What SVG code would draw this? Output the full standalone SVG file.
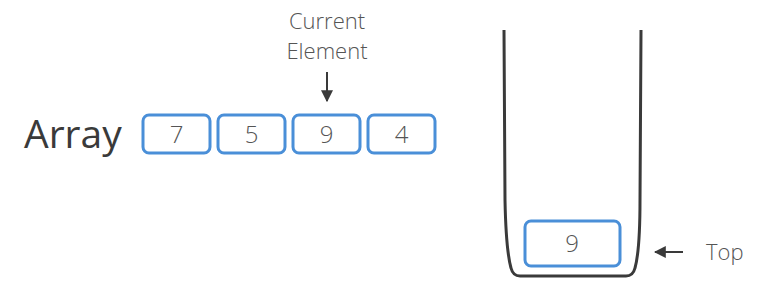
<svg xmlns="http://www.w3.org/2000/svg" width="770" height="281" viewBox="0 0 770 281">
<style>
.box{fill:#fff;stroke:#4a8fd8;stroke-width:3}
.num{font-family:"Open Sans","Liberation Sans",sans-serif;font-weight:300;font-size:24px;fill:#555;text-anchor:middle}
.lbl{font-family:"Open Sans","Liberation Sans",sans-serif;font-weight:300;font-size:22px;fill:#555}
.ln{stroke:#3a3a3a;stroke-width:2;fill:none}
</style>
<defs>
<marker id="ah" viewBox="0 0 10 10" refX="9" refY="5" markerWidth="6" markerHeight="6" orient="auto-start-reverse" markerUnits="strokeWidth">
<path d="M0,0 L10,5 L0,10 z" fill="#3a3a3a"/>
</marker>
</defs>
<rect width="770" height="281" fill="#fff"/>
<g id="array-label"><text x="24" y="148" font-family="Open Sans, Liberation Sans, sans-serif" font-size="39" fill="#3a3a3a">Array</text></g>
<g id="a0"><rect class="box" x="143" y="115" width="67" height="38" rx="6"/><text class="num" x="176.5" y="143">7</text></g>
<g id="a1"><rect class="box" x="218" y="115" width="67" height="38" rx="6"/><text class="num" x="251.5" y="143">5</text></g>
<g id="a2"><rect class="box" x="293" y="115" width="67" height="38" rx="6"/><text class="num" x="326.5" y="143">9</text></g>
<g id="a3"><rect class="box" x="368" y="115" width="67" height="38" rx="6"/><text class="num" x="401.5" y="143">4</text></g>
<g id="current-label"><text class="lbl" x="327" y="29" text-anchor="middle">Current</text><text class="lbl" x="327" y="59" text-anchor="middle">Element</text></g>
<g id="stack"><path d="M504,30 L505,200 Q506,250 511,268 Q513,276 520,276 L626,276 Q633,276 635,268 Q640,250 640,200 L641,30" fill="none" stroke="#3a3a3a" stroke-width="3"/></g>
<g id="s0"><rect class="box" x="525" y="221" width="95" height="45" rx="6"/><text class="num" x="572" y="252">9</text></g>
<g id="top-label"><text class="lbl" x="706" y="260" font-size="23">Top</text></g>
<g id="connectors">
<line class="ln" x1="327" y1="72" x2="327" y2="101" marker-end="url(#ah)"/>
<line class="ln" x1="683" y1="252" x2="655" y2="252" marker-end="url(#ah)"/>
</g>
</svg>
